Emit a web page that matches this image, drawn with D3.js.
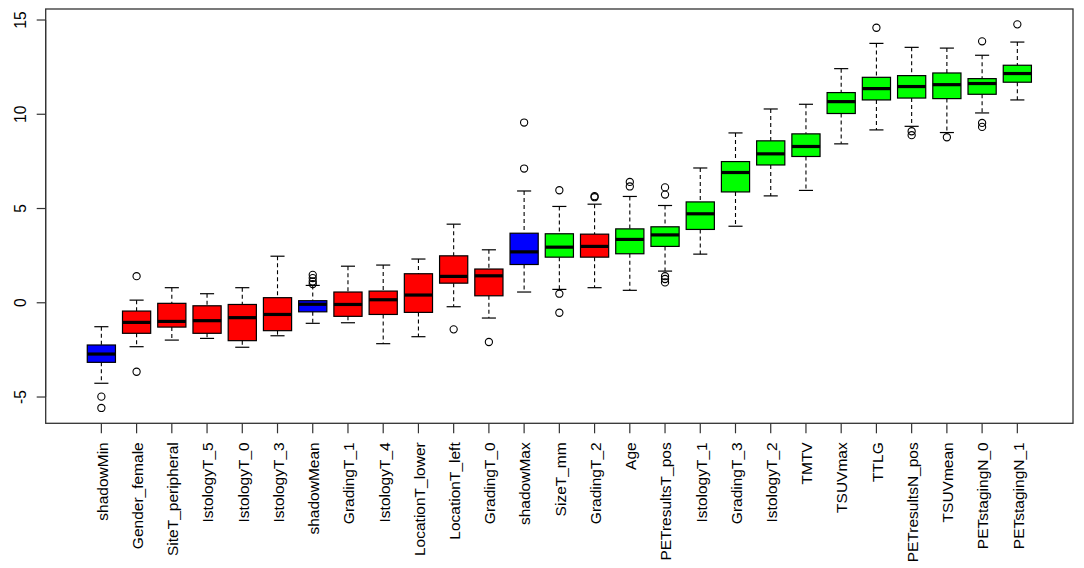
<!DOCTYPE html>
<html>
<head>
<meta charset="utf-8">
<script src="https://cdn.jsdelivr.net/npm/d3@7"></script>
<style>
  html, body { margin: 0; padding: 0; background: #fff; }
  svg { display: block; }
  text { font-family: "Liberation Sans", Arial, Helvetica, sans-serif; }
</style>
</head>
<body>
<svg id="chart" width="1084" height="568"></svg>
<script>
// ---- Data ----
const categories = ["shadowMin","Gender_female","SiteT_peripheral","IstologyT_5","IstologyT_0","IstologyT_3","shadowMean","GradingT_1","IstologyT_4","LocationT_lower","LocationT_left","GradingT_0","shadowMax","SizeT_mm","GradingT_2","Age","PETresultsT_pos","IstologyT_1","GradingT_3","IstologyT_2","TMTV","TSUVmax","TTLG","PETresultsN_pos","TSUVmean","PETstagingN_0","PETstagingN_1"];
const decision = ["shadow","rejected","rejected","rejected","rejected","rejected","shadow","rejected","rejected","rejected","rejected","rejected","shadow","confirmed","rejected","confirmed","confirmed","confirmed","confirmed","confirmed","confirmed","confirmed","confirmed","confirmed","confirmed","confirmed","confirmed"];
const whiskerLow  = [-4.27,-2.33,-1.98,-1.89,-2.36,-1.75,-1.09,-1.06,-2.17,-1.80,-0.21,-0.81,0.57,0.71,0.80,0.66,1.68,2.58,4.06,5.67,5.96,8.43,9.17,9.36,9.03,10.07,10.76];
const q1          = [-3.16,-1.62,-1.29,-1.62,-2.01,-1.48,-0.48,-0.72,-0.62,-0.51,1.04,0.37,2.03,2.42,2.42,2.60,2.99,3.89,5.88,7.31,7.76,10.04,10.76,10.86,10.83,11.06,11.70];
const median      = [-2.72,-1.04,-0.99,-0.95,-0.79,-0.62,-0.08,-0.09,0.16,0.41,1.40,1.43,2.70,2.95,2.99,3.36,3.60,4.72,6.91,7.90,8.29,10.67,11.36,11.47,11.57,11.63,12.16];
const q3          = [-2.24,-0.44,-0.03,-0.16,-0.09,0.27,0.11,0.57,0.62,1.54,2.49,1.79,3.69,3.66,3.64,3.92,4.03,5.35,7.49,8.59,8.96,11.15,11.96,12.05,12.19,11.89,12.60];
const whiskerHigh = [-1.27,0.14,0.80,0.48,0.80,2.47,0.92,1.94,2.00,2.32,4.17,2.81,5.93,5.11,5.23,5.64,5.16,7.15,9.01,10.28,10.53,12.42,13.76,13.55,13.51,13.13,13.83];
const outliers    = [[-4.98,-5.58],[1.41,-3.66],[],[],[],[],[1.48,1.31,1.13,0.99],[],[],[],[-1.41],[-2.08],[9.56,7.12],[5.97,0.48,-0.53],[5.65,5.60],[6.41,6.17],[6.12,5.74,1.41,1.26,1.08],[],[],[],[],[],[14.59],[9.10,8.89],[8.78],[13.87,9.54,9.33],[14.77]];
const yTicks = [-5, 0, 5, 10, 15];
const decisionColors = { shadow: "#0000FF", rejected: "#FF0000", confirmed: "#00FF00" };

// ---- Layout ----
const svg = d3.select("#chart");
const plot = { left: 45.7, right: 1073, top: 9, bottom: 423.3 };
const n = categories.length;

const allVals = whiskerLow.concat(whiskerHigh, outliers.flat());
const yMin = d3.min(allVals), yMax = d3.max(allVals);
const yPad = (yMax - yMin) * 0.04;
const y = d3.scaleLinear().domain([yMin - yPad, yMax + yPad]).range([plot.bottom, plot.top]);
const xPad = n * 0.04;
const x = d3.scaleLinear().domain([0.5 - xPad, n + 0.5 + xPad]).range([plot.left, plot.right]);

const boxW = x(0.4) - x(0);     // half width of box (0.8 total)
const stapleW = x(0.2) - x(0);  // half width of staple

const data = categories.map((c, i) => ({
  name: c, pos: i + 1, dec: decision[i],
  lo: whiskerLow[i], q1: q1[i], med: median[i], q3: q3[i], hi: whiskerHigh[i], out: outliers[i]
}));

const g = svg.append("g");
const boxes = g.selectAll("g.box").data(data).enter().append("g").attr("class", "box");

// whiskers (dashed)
boxes.append("line")
  .attr("x1", d => x(d.pos)).attr("x2", d => x(d.pos))
  .attr("y1", d => y(d.hi)).attr("y2", d => y(d.q3))
  .attr("stroke", "#000").attr("stroke-width", 1.1).attr("stroke-dasharray", "4,3");
boxes.append("line")
  .attr("x1", d => x(d.pos)).attr("x2", d => x(d.pos))
  .attr("y1", d => y(d.q1)).attr("y2", d => y(d.lo))
  .attr("stroke", "#000").attr("stroke-width", 1.1).attr("stroke-dasharray", "4,3");
// staples
boxes.append("line")
  .attr("x1", d => x(d.pos) - stapleW).attr("x2", d => x(d.pos) + stapleW)
  .attr("y1", d => y(d.hi)).attr("y2", d => y(d.hi))
  .attr("stroke", "#000").attr("stroke-width", 1.2);
boxes.append("line")
  .attr("x1", d => x(d.pos) - stapleW).attr("x2", d => x(d.pos) + stapleW)
  .attr("y1", d => y(d.lo)).attr("y2", d => y(d.lo))
  .attr("stroke", "#000").attr("stroke-width", 1.2);
// box
boxes.append("rect")
  .attr("x", d => x(d.pos) - boxW).attr("width", 2 * boxW)
  .attr("y", d => y(d.q3)).attr("height", d => y(d.q1) - y(d.q3))
  .attr("fill", d => decisionColors[d.dec]).attr("stroke", "#000").attr("stroke-width", 1.2);
// median
boxes.append("line")
  .attr("x1", d => x(d.pos) - boxW).attr("x2", d => x(d.pos) + boxW)
  .attr("y1", d => y(d.med)).attr("y2", d => y(d.med))
  .attr("stroke", "#000").attr("stroke-width", 3.2);
// outliers
boxes.selectAll("circle").data(d => d.out.map(v => ({ pos: d.pos, v }))).enter().append("circle")
  .attr("cx", d => x(d.pos)).attr("cy", d => y(d.v)).attr("r", 3.6)
  .attr("fill", "none").attr("stroke", "#000").attr("stroke-width", 1.1);

// frame
svg.append("rect")
  .attr("x", plot.left).attr("y", plot.top)
  .attr("width", plot.right - plot.left).attr("height", plot.bottom - plot.top)
  .attr("fill", "none").attr("stroke", "#333").attr("stroke-width", 1.3);

// y axis ticks + labels
const yAxis = svg.append("g");
yAxis.selectAll("line").data(yTicks).enter().append("line")
  .attr("x1", plot.left - 9).attr("x2", plot.left)
  .attr("y1", d => y(d)).attr("y2", d => y(d))
  .attr("stroke", "#333").attr("stroke-width", 1.2);
yAxis.append("line")
  .attr("x1", plot.left).attr("x2", plot.left)
  .attr("y1", y(yTicks[0])).attr("y2", y(yTicks[yTicks.length - 1]))
  .attr("stroke", "#333");
yAxis.selectAll("text").data(yTicks).enter().append("text")
  .attr("transform", d => `translate(25.5,${y(d)}) rotate(-90)`)
  .attr("text-anchor", "middle")
  .attr("font-size", "15.6px").attr("fill", "#000")
  .text(d => d);

// x axis ticks + labels
const xAxis = svg.append("g");
xAxis.selectAll("line").data(data).enter().append("line")
  .attr("x1", d => x(d.pos)).attr("x2", d => x(d.pos))
  .attr("y1", plot.bottom).attr("y2", plot.bottom + 10)
  .attr("stroke", "#333").attr("stroke-width", 1.2);
xAxis.selectAll("text").data(data).enter().append("text")
  .attr("transform", d => `translate(${x(d.pos) + 6.3},${plot.bottom + 19}) rotate(-90)`)
  .attr("text-anchor", "end")
  .attr("font-size", "15.5px").attr("fill", "#000")
  .text(d => d.name);
</script>
</body>
</html>
